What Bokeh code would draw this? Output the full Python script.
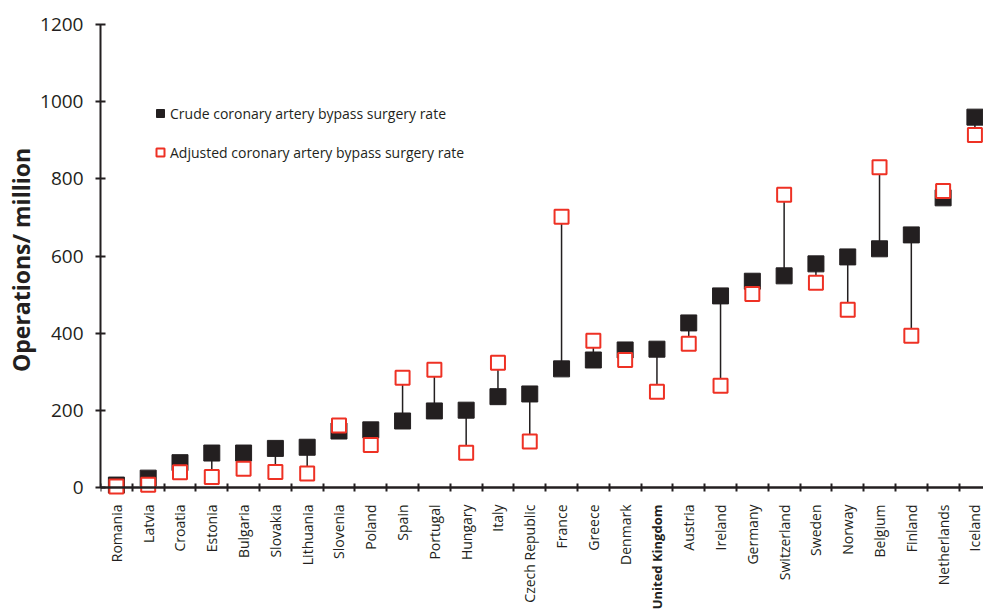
import math
from bokeh.plotting import figure
from bokeh.layouts import column
from bokeh.models import (ColumnDataSource, Range1d, FixedTicker,
                          Legend, LegendItem)
from bokeh.embed import file_html
from bokeh.resources import INLINE

countries = ["Romania", "Latvia", "Croatia", "Estonia", "Bulgaria", "Slovakia",
             "Lithuania", "Slovenia", "Poland", "Spain", "Portugal", "Hungary",
             "Italy", "Czech Republic", "France", "Greece", "Denmark",
             "United Kingdom", "Austria", "Ireland", "Germany", "Switzerland",
             "Sweden", "Norway", "Belgium", "Finland", "Netherlands", "Iceland"]
crude = [7, 25, 65, 90, 90, 102, 105, 147, 150, 173, 199, 201, 236, 243, 308,
         331, 357, 359, 427, 497, 535, 549, 580, 598, 619, 655, 751, 960]
adjusted = [3, 8, 40, 28, 49, 41, 37, 161, 111, 285, 306, 91, 324, 120, 702,
            381, 331, 249, 373, 264, 502, 759, 531, 461, 830, 394, 769, 914]
y_ticks = [0, 200, 400, 600, 800, 1000, 1200]
highlight = "United Kingdom"

INK = "#231f20"
RED = "#ee3124"
FONT = "Open Sans"

xc = [i + 0.5 for i in range(len(countries))]
bounds_x = list(range(len(countries) + 1))
src = ColumnDataSource(dict(x=xc, crude=crude, adj=adjusted))
lab_src = ColumnDataSource(dict(
    x=xc, name=countries, y=[111] * len(countries),
    style=["bold" if c == highlight else "normal" for c in countries],
    fsize=["13px" if c == highlight else "14px" for c in countries]))

x_range = Range1d(0, 27.77)

p = figure(width=983, height=500, output_backend="svg", toolbar_location=None,
           x_range=x_range, y_range=Range1d(-20, 1200),
           min_border_left=100, min_border_right=0, min_border_top=24,
           min_border_bottom=5)
p.outline_line_color = None
p.xgrid.visible = False
p.ygrid.visible = False

p.segment(x0="x", y0="crude", x1="x", y1="adj", source=src,
          line_color=INK, line_width=1.5)
r_crude = p.scatter(x="x", y="crude", source=src, marker="square", size=16,
                    fill_color=INK, line_color=INK, line_width=1)
r_adj = p.scatter(x="x", y="adj", source=src, marker="square", size=14,
                  fill_color="white", line_color=RED, line_width=2)

# y axis
ya = p.yaxis[0]
ya.ticker = FixedTicker(ticks=y_ticks)
ya.bounds = (0, 1200)
ya.axis_line_width = 2
ya.axis_line_color = INK
ya.major_tick_line_width = 2
ya.major_tick_line_color = INK
ya.major_tick_in = 5
ya.major_tick_out = 5
ya.minor_tick_line_color = None
ya.major_label_text_font = FONT
ya.major_label_text_font_size = "19px"
ya.major_label_text_color = INK
ya.major_label_standoff = 12
ya.axis_label = "Operations/ million"
ya.axis_label_text_font = FONT
ya.axis_label_text_font_style = "bold"
ya.axis_label_text_font_size = "23px"
ya.axis_label_text_color = INK
ya.axis_label_standoff = 0

# x axis line at zero with ticks at category boundaries
xa = p.xaxis[0]
xa.fixed_location = 0
xa.ticker = FixedTicker(ticks=bounds_x)
xa.axis_line_width = 2.5
xa.axis_line_color = INK
xa.major_tick_line_width = 2
xa.major_tick_line_color = INK
xa.major_tick_in = 4
xa.major_tick_out = 4
xa.minor_tick_line_color = None
xa.major_label_text_font_size = "0px"
xa.major_label_overrides = {b: "" for b in bounds_x}

legend = Legend(items=[
    LegendItem(label="Crude coronary artery bypass surgery rate", renderers=[r_crude]),
    LegendItem(label="Adjusted coronary artery bypass surgery rate", renderers=[r_adj]),
], location=(50, 333), glyph_width=20, glyph_height=20, label_height=20,
    spacing=19, padding=0, margin=0, label_standoff=0,
    label_text_font=FONT, label_text_font_size="14px", label_text_color=INK,
    border_line_color=None, background_fill_alpha=0)
p.add_layout(legend)

# category labels strip (shares the x range)
p2 = figure(width=983, height=115, output_backend="svg", toolbar_location=None,
            x_range=x_range, y_range=Range1d(0, 115),
            x_axis_type=None, y_axis_type=None,
            min_border_left=100, min_border_right=0, min_border_top=0,
            min_border_bottom=0)
p2.outline_line_color = None
p2.xgrid.visible = False
p2.ygrid.visible = False
p2.text(x="x", y="y", text="name", source=lab_src, angle=math.pi / 2,
        text_align="right", text_baseline="middle",
        text_font={"value": FONT}, text_font_size="fsize",
        text_font_style="style", text_color=INK)

open("out.html", "w").write(file_html(column(p, p2, spacing=0), INLINE))
